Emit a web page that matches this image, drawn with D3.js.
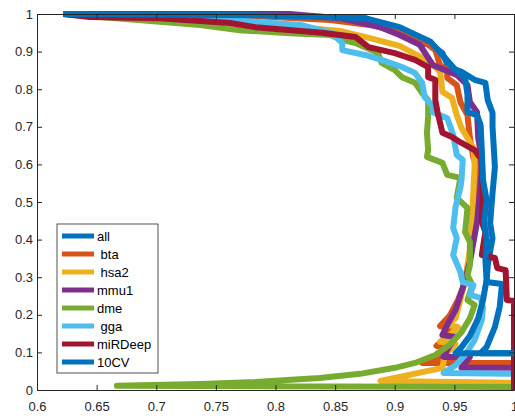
<!DOCTYPE html>
<html>
<head>
<meta charset="utf-8">
<script src="https://cdn.jsdelivr.net/npm/d3@7"></script>
<style>
  body { margin: 0; background: #fff; }
  text { font-family: "Liberation Sans", Arial, Helvetica, sans-serif; }
</style>
</head>
<body>
<div id="chart"></div>
<script>
// legend names (leading spaces are part of the original labels)
const seriesNames = ["all", " bta", " hsa2", "mmu1", "dme", " gga", "miRDeep", "10CV"];
const seriesColors = ["#0072BD", "#D95319", "#EDB120", "#7E2F8E", "#77AC30", "#4DBEEE", "#A2142F", "#0072BD"];

const xTicks = [0.6, 0.65, 0.7, 0.75, 0.8, 0.85, 0.9, 0.95, 1];
const xTickLabels = ["0.6", "0.65", "0.7", "0.75", "0.8", "0.85", "0.9", "0.95", "1"];
const yTicks = [0, 0.1, 0.2, 0.3, 0.4, 0.5, 0.6, 0.7, 0.8, 0.9, 1];
const yTickLabels = ["0", "0.1", "0.2", "0.3", "0.4", "0.5", "0.6", "0.7", "0.8", "0.9", "1"];

// curves, [x, y]
const allPts = [[0.622,1.000],[0.783,0.997],[0.875,0.989],[0.894,0.965],[0.911,0.952],[0.915,0.940],[0.920,0.923],[0.931,0.918],[0.940,0.896],[0.945,0.859],[0.956,0.846],[0.967,0.825],[0.976,0.817],[0.978,0.771],[0.982,0.737],[0.982,0.700],[0.984,0.593],[0.982,0.524],[0.980,0.444],[0.982,0.404],[0.978,0.332],[0.977,0.287],[0.990,0.282],[0.988,0.221],[0.984,0.168],[0.977,0.114],[0.972,0.098],[1.000,0.098]];

const btaPts = [[0.622,1.000],[0.779,0.995],[0.846,0.984],[0.879,0.971],[0.904,0.952],[0.925,0.926],[0.934,0.904],[0.938,0.864],[0.944,0.851],[0.944,0.830],[0.952,0.811],[0.955,0.766],[0.961,0.731],[0.963,0.670],[0.966,0.617],[0.970,0.590],[0.968,0.532],[0.966,0.439],[0.963,0.359],[0.959,0.287],[0.953,0.239],[0.946,0.197],[0.938,0.170],[0.948,0.162],[0.942,0.138],[0.935,0.117],[0.946,0.112],[0.938,0.088],[0.923,0.072],[1.000,0.072]];

const hsa2Pts = [[0.622,1.000],[0.779,0.979],[0.821,0.965],[0.854,0.955],[0.879,0.936],[0.904,0.915],[0.930,0.872],[0.938,0.846],[0.940,0.793],[0.948,0.777],[0.952,0.731],[0.956,0.697],[0.961,0.670],[0.966,0.644],[0.967,0.598],[0.965,0.465],[0.963,0.372],[0.959,0.293],[0.955,0.239],[0.951,0.191],[0.944,0.173],[0.953,0.168],[0.946,0.144],[0.938,0.128],[0.951,0.122],[0.942,0.093],[0.940,0.059],[0.888,0.024],[1.000,0.019]];

const mmu1Pts = [[0.622,1.000],[0.812,1.000],[0.854,0.989],[0.888,0.965],[0.904,0.944],[0.921,0.918],[0.932,0.864],[0.952,0.838],[0.961,0.811],[0.963,0.766],[0.969,0.739],[0.970,0.670],[0.972,0.633],[0.973,0.580],[0.969,0.447],[0.963,0.340],[0.957,0.271],[0.951,0.213],[0.944,0.173],[0.940,0.146],[0.951,0.141],[0.945,0.112],[0.941,0.088],[0.963,0.088],[0.956,0.059],[1.000,0.059]];

const dmePts = [[0.622,1.000],[0.737,0.971],[0.770,0.957],[0.812,0.949],[0.846,0.944],[0.856,0.931],[0.867,0.923],[0.886,0.896],[0.889,0.870],[0.900,0.851],[0.906,0.832],[0.917,0.817],[0.923,0.790],[0.928,0.771],[0.928,0.726],[0.927,0.684],[0.928,0.638],[0.927,0.620],[0.940,0.604],[0.944,0.572],[0.955,0.564],[0.952,0.511],[0.961,0.484],[0.959,0.420],[0.963,0.394],[0.963,0.332],[0.961,0.306],[0.965,0.279],[0.961,0.239],[0.967,0.226],[0.963,0.191],[0.956,0.154],[0.946,0.120],[0.934,0.093],[0.917,0.072],[0.900,0.059],[0.871,0.043],[0.837,0.032],[0.783,0.021],[0.737,0.016],[0.667,0.011],[1.000,0.008]];

const ggaPts = [[0.622,1.000],[0.762,0.984],[0.821,0.971],[0.847,0.950],[0.856,0.923],[0.856,0.904],[0.875,0.891],[0.889,0.878],[0.906,0.859],[0.917,0.843],[0.923,0.817],[0.925,0.779],[0.931,0.758],[0.932,0.739],[0.944,0.723],[0.949,0.678],[0.952,0.625],[0.957,0.612],[0.956,0.559],[0.955,0.537],[0.951,0.487],[0.949,0.431],[0.952,0.404],[0.949,0.359],[0.955,0.314],[0.957,0.287],[0.966,0.279],[0.963,0.253],[0.972,0.245],[0.974,0.218],[0.973,0.186],[0.967,0.133],[0.959,0.093],[0.951,0.066],[0.941,0.045],[1.000,0.043]];

const mirdeepPts = [[0.622,1.000],[0.644,0.992],[0.703,0.989],[0.762,0.976],[0.783,0.965],[0.839,0.950],[0.867,0.939],[0.878,0.912],[0.900,0.896],[0.917,0.878],[0.928,0.859],[0.928,0.832],[0.934,0.825],[0.934,0.771],[0.936,0.737],[0.940,0.684],[0.948,0.673],[0.956,0.657],[0.967,0.638],[0.973,0.612],[0.974,0.511],[0.973,0.447],[0.976,0.420],[0.973,0.359],[0.984,0.351],[0.986,0.324],[0.993,0.319],[0.994,0.239],[1.000,0.237],[1.000,0.000]];

const cv10Pts = [[0.622,1.000],[0.783,0.997],[0.875,0.989],[0.904,0.965],[0.930,0.926],[0.940,0.891],[0.951,0.851],[0.959,0.830],[0.961,0.785],[0.961,0.739],[0.969,0.731],[0.972,0.705],[0.973,0.638],[0.974,0.559],[0.977,0.505],[0.975,0.447],[0.977,0.399],[0.976,0.346],[0.977,0.293],[0.974,0.239],[0.970,0.191],[0.963,0.144],[0.956,0.114],[0.951,0.098],[1.000,0.098]];

const seriesPts = [allPts, btaPts, hsa2Pts, mmu1Pts, dmePts, ggaPts, mirdeepPts, cv10Pts];

const width = 515, height = 416;
const plotLeft = 37, plotRight = 514, plotTop = 14, plotBottom = 390;
const ink = "#262626";

const x = d3.scaleLinear().domain([0.6, 1]).range([plotLeft, plotRight]);
const y = d3.scaleLinear().domain([0, 1]).range([plotBottom, plotTop]);

const svg = d3.select("#chart").append("svg")
  .attr("width", width)
  .attr("height", height);

const line = d3.line().x(d => x(d[0])).y(d => y(d[1]));

// curves
svg.append("g")
  .selectAll("path")
  .data(seriesPts)
  .join("path")
  .attr("d", line)
  .attr("fill", "none")
  .attr("stroke", (d, i) => seriesColors[i])
  .attr("stroke-width", 6)
  .attr("stroke-linejoin", "round")
  .attr("stroke-linecap", "butt");

// axes, ticks pointing inward (matlab box)
const styleAxis = g => {
  g.selectAll(".domain").attr("stroke", ink);
  g.selectAll(".tick line").attr("stroke", ink);
  g.selectAll("text").attr("fill", ink).style("font-size", "13px");
};

svg.append("g")
  .attr("transform", `translate(0,${plotBottom})`)
  .call(d3.axisBottom(x).tickValues(xTicks).tickSize(-5).tickSizeOuter(0).tickPadding(12)
    .tickFormat((d, i) => xTickLabels[i]))
  .call(styleAxis);

svg.append("g")
  .attr("transform", `translate(0,${plotTop})`)
  .call(d3.axisTop(x).tickValues(xTicks).tickSize(-5).tickSizeOuter(0).tickFormat(""))
  .call(styleAxis);

svg.append("g")
  .attr("transform", `translate(${plotLeft},0)`)
  .call(d3.axisLeft(y).tickValues(yTicks).tickSize(-5).tickSizeOuter(0).tickPadding(4)
    .tickFormat((d, i) => yTickLabels[i]))
  .call(styleAxis);

svg.append("g")
  .attr("transform", `translate(${plotRight},0)`)
  .call(d3.axisRight(y).tickValues(yTicks).tickSize(-5).tickSizeOuter(0).tickFormat(""))
  .call(styleAxis);

svg.selectAll(".domain").attr("stroke-width", 1);

// legend
const legend = svg.append("g").attr("transform", "translate(57,224)");
legend.append("rect")
  .attr("width", 101)
  .attr("height", 149)
  .attr("fill", "#fff")
  .attr("stroke", ink)
  .attr("stroke-width", 0.8);

const entry = legend.selectAll("g.entry")
  .data(seriesNames)
  .join("g")
  .attr("class", "entry")
  .attr("transform", (d, i) => `translate(0,${12 + i * 18})`);

entry.append("line")
  .attr("x1", 5).attr("x2", 37)
  .attr("stroke", (d, i) => seriesColors[i])
  .attr("stroke-width", 5);

entry.append("text")
  .attr("x", 40)
  .attr("dy", "0.35em")
  .attr("fill", "#000")
  .style("font-size", "13px")
  .style("white-space", "pre")
  .text(d => d);
</script>
</body>
</html>
